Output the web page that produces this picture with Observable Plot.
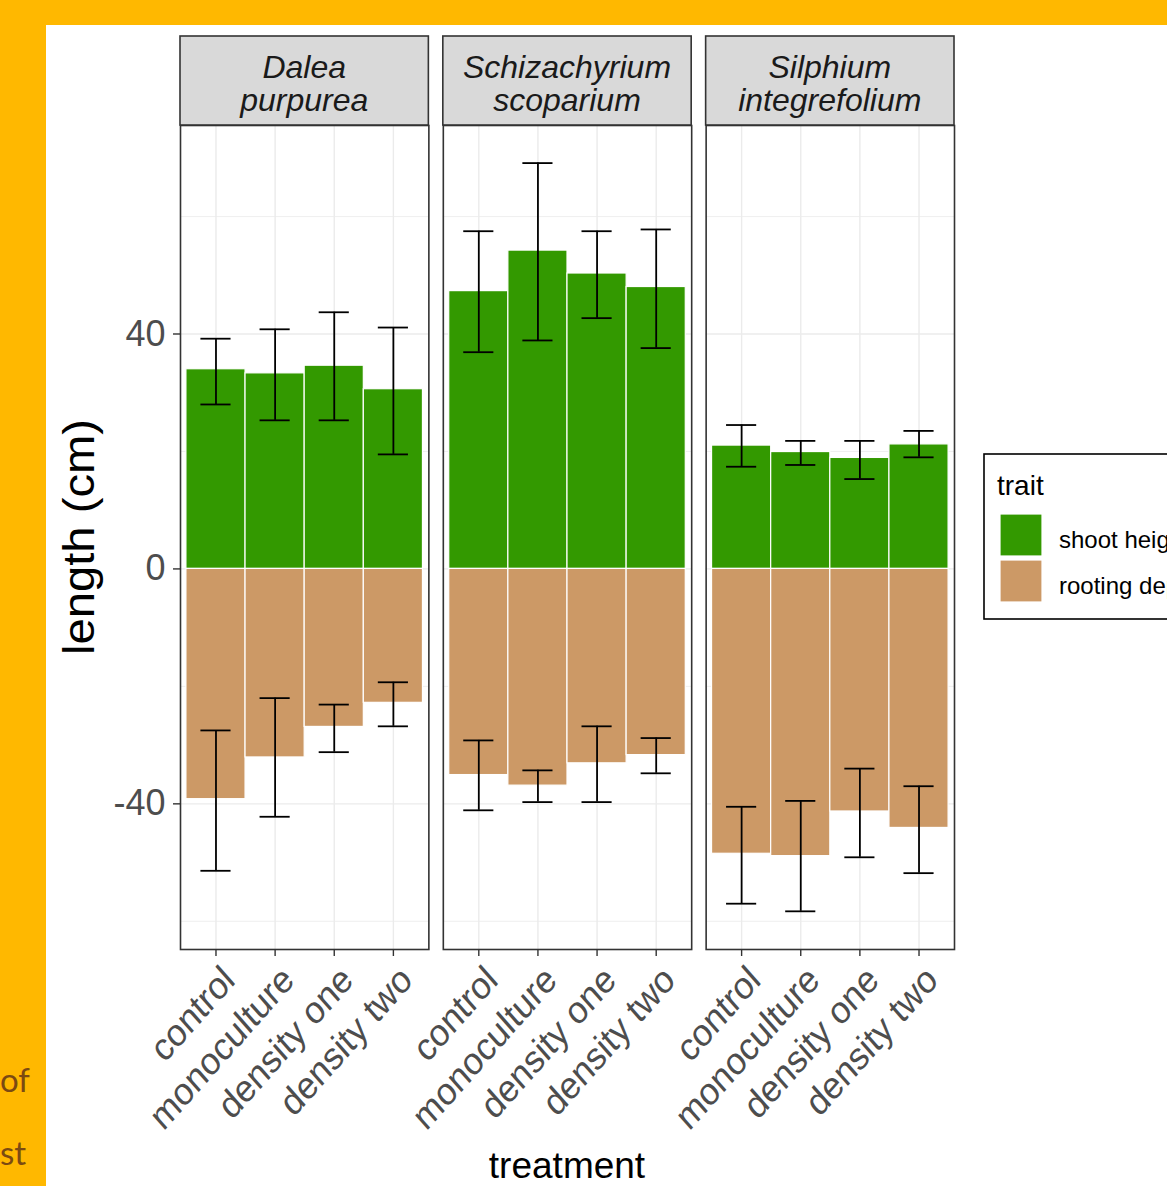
<!DOCTYPE html>
<html>
<head>
<meta charset="utf-8">
<script src="https://cdn.jsdelivr.net/npm/d3@7"></script>
<script src="https://cdn.jsdelivr.net/npm/@observablehq/plot@0.6"></script>
<style>
  html, body { margin: 0; padding: 0; width: 1167px; height: 1186px; overflow: hidden; background: #FFB800; }
  #sheet { position: absolute; left: 46px; top: 25px; width: 1121px; height: 1161px; background: #ffffff; overflow: hidden; }
  .side { position: absolute; left: 0; font-family: Lato, "Open Sans", sans-serif; font-size: 33px; color: #7B4A12; line-height: 1; }
  svg text { font-family: "Liberation Sans", Arial, sans-serif; }
</style>
</head>
<body>
<div class="side" style="top:1063px">of</div>
<div class="side" style="top:1136px">st</div>
<div id="sheet"></div>
<script>
// Species (facets), treatments (x categories) and traits (fill)
const species = ["Dalea purpurea", "Schizachyrium scoparium", "Silphium integrefolium"];
const speciesLines = [["Dalea", "purpurea"], ["Schizachyrium", "scoparium"], ["Silphium", "integrefolium"]];
const treatments = ["control", "monoculture", "density one", "density two"];
const traits = ["shoot height", "rooting depth"];
const traitColors = ["#339900", "#CC9966"];

// Shoot height (cm): mean and error-bar limits, one row per species
const shootMean  = [[34.0, 33.3, 34.6, 30.6], [47.3, 54.2, 50.3, 48.0], [21.0, 19.9, 18.9, 21.2]];
const shootUpper = [[39.2, 40.8, 43.7, 41.1], [57.5, 69.1, 57.5, 57.8], [24.5, 21.8, 21.8, 23.5]];
const shootLower = [[28.0, 25.3, 25.3, 19.5], [36.9, 38.9, 42.7, 37.6], [17.4, 17.7, 15.3, 19.0]];

// Rooting depth (cm, drawn downward): mean and error-bar limits
const rootMean  = [[-39.2, -32.1, -26.9, -22.8], [-35.1, -36.9, -33.1, -31.7], [-48.5, -48.9, -41.3, -44.1]];
const rootUpper = [[-27.5, -22.0, -23.1, -19.3], [-29.2, -34.3, -26.8, -28.8], [-40.5, -39.5, -34.0, -37.0]];
const rootLower = [[-51.4, -42.2, -31.2, -26.8], [-41.1, -39.7, -39.7, -34.8], [-57.0, -58.3, -49.1, -51.8]];

const yTicks = [-40, 0, 40];
const yMinor = [-60, -20, 20, 60];

// Long-format table
const rows = [];
species.forEach((s, i) => {
  treatments.forEach((t, j) => {
    rows.push({species: s, treatment: t, trait: traits[0], value: shootMean[i][j], lo: shootLower[i][j], hi: shootUpper[i][j]});
    rows.push({species: s, treatment: t, trait: traits[1], value: rootMean[i][j], lo: rootLower[i][j], hi: rootUpper[i][j]});
  });
});

const W = 1121, H = 1161;
const plot = Plot.plot({
  width: W, height: H,
  marginLeft: 134, marginRight: 213, marginTop: 100, marginBottom: 237,
  style: {fontFamily: "'Liberation Sans', Arial, sans-serif", background: "transparent", overflow: "visible"},
  fx: {domain: species, paddingInner: 0.055, paddingOuter: 0, round: false, axis: null, label: null},
  x: {domain: treatments, paddingInner: 0, paddingOuter: 0.1, round: false, label: null},
  y: {domain: [-64.8, 75.5], label: null},
  color: {domain: traits, range: traitColors},
  marks: [
    Plot.gridY({ticks: yMinor, stroke: "#EBEBEB", strokeOpacity: 1, strokeWidth: 0.8}),
    Plot.gridY({ticks: yTicks, stroke: "#EBEBEB", strokeOpacity: 1, strokeWidth: 1.4}),
    Plot.gridX({stroke: "#EBEBEB", strokeOpacity: 1, strokeWidth: 1.4}),
    Plot.barY(rows, {fx: "species", x: "treatment", y1: 0, y2: "value", fill: "trait", stroke: "#ffffff", strokeWidth: 1.2}),
    Plot.ruleX(rows, {fx: "species", x: "treatment", y1: "lo", y2: "hi", stroke: "#000000", strokeWidth: 1.8}),
    Plot.tickY(rows, {fx: "species", x: "treatment", y: "lo", stroke: "#000000", strokeWidth: 1.8, insetLeft: 14.5, insetRight: 14.5}),
    Plot.tickY(rows, {fx: "species", x: "treatment", y: "hi", stroke: "#000000", strokeWidth: 1.8, insetLeft: 14.5, insetRight: 14.5}),
    Plot.frame({stroke: "#333333", strokeWidth: 1.6}),
    Plot.axisY({ticks: yTicks, tickFormat: d => String(d), tickSize: 7, tickPadding: 8, fontSize: 36, fill: "#4D4D4D", stroke: "#333333", strokeWidth: 1.4, label: null}),
    Plot.axisX({tickRotate: -45, tickSize: 7, tickPadding: 4, fontSize: 34, fill: "#4D4D4D", stroke: "#333333", strokeWidth: 1.4, label: null})
  ]
});

const svg = d3.select(plot);
const fx = plot.scale("fx");
const color = plot.scale("color");

// Treatment labels: slightly taller slant, nudged so their ends sit just right of the ticks
svg.selectAll('g[aria-label="x-axis tick label"] text').each(function() {
  const t = this.getAttribute("transform") || "";
  this.setAttribute("transform", "translate(13,13) " + t.replace("rotate(", "scale(1,1.13) rotate("));
});

// Facet strips
const stripTop = 11, stripH = 89;
species.forEach((s, i) => {
  const x0 = fx.apply(s), bw = fx.bandwidth;
  svg.append("rect").attr("x", x0).attr("y", stripTop).attr("width", bw).attr("height", stripH)
    .attr("fill", "#D9D9D9").attr("stroke", "#333333").attr("stroke-width", 1.6);
  const label = svg.append("text").attr("text-anchor", "middle").attr("font-style", "italic")
    .attr("font-size", 32).attr("fill", "#1A1A1A");
  speciesLines[i].forEach((line, k) => {
    label.append("tspan").attr("x", x0 + bw / 2).attr("y", 53 + k * 33).text(line);
  });
});

// Axis titles
const panelsLeft = fx.apply(species[0]);
const panelsRight = fx.apply(species[2]) + fx.bandwidth;
svg.append("text").attr("x", (panelsLeft + panelsRight) / 2).attr("y", 1153)
  .attr("text-anchor", "middle").attr("font-size", 37).attr("fill", "#000").text("treatment");
svg.append("text").attr("transform", "translate(48,512) rotate(-90)")
  .attr("text-anchor", "middle").attr("font-size", 44).attr("fill", "#000")
  .attr("textLength", 236).attr("lengthAdjust", "spacingAndGlyphs").text("length (cm)");

// Legend
const lg = svg.append("g").attr("transform", "translate(938,429)");
lg.append("rect").attr("width", 260).attr("height", 165).attr("fill", "#fff").attr("stroke", "#000").attr("stroke-width", 1.6);
lg.append("text").attr("x", 13).attr("y", 41).attr("text-anchor", "start").attr("font-size", 28).attr("fill", "#000").text("trait");
traits.forEach((t, k) => {
  lg.append("rect").attr("x", 16).attr("y", 60 + k * 46).attr("width", 42).attr("height", 42)
    .attr("fill", color.apply(t)).attr("stroke", "#ffffff").attr("stroke-width", 1.2);
  lg.append("text").attr("x", 75).attr("y", 94 + k * 46).attr("text-anchor", "start").attr("font-size", 24).attr("fill", "#000").text(t);
});

document.getElementById("sheet").appendChild(plot);
</script>
</body>
</html>
